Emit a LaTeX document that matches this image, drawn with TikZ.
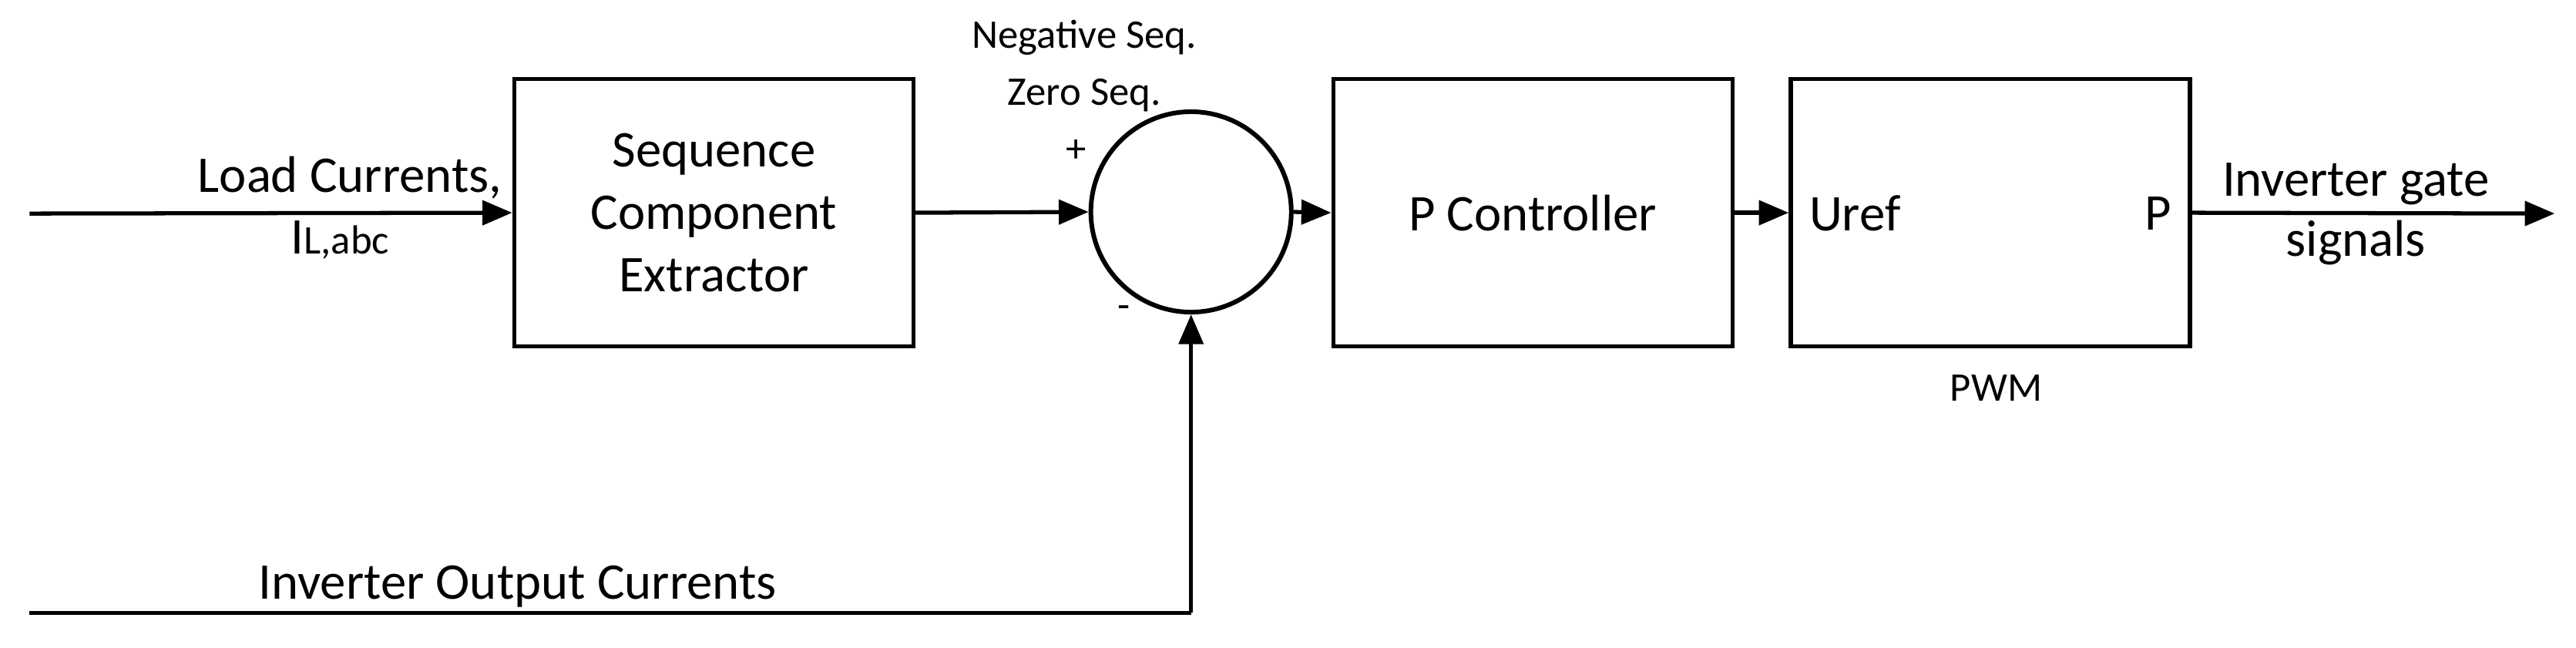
\documentclass[tikz,border=0pt]{standalone}
\usepackage{fontspec}
\setmainfont{Carlito}
\usetikzlibrary{arrows.meta}
\begin{document}
\begin{tikzpicture}[x=0.02132cm,y=-0.02132cm,
  blk/.style={draw,line width=1.5pt,minimum width=243*0.02132cm,minimum height=163*0.02132cm,inner sep=0pt,align=center,font=\fontsize{19}{23}\selectfont},
  ln/.style={line width=1.5pt},
  ar/.style={ln,-{Triangle[length=11pt,width=9pt]}},
  big/.style={font=\fontsize{19}{23}\selectfont,align=center,inner sep=0pt},
  sm/.style={font=\fontsize{15}{18}\selectfont,align=center,inner sep=0pt}]
\useasboundingbox (0,0) rectangle (1568,394);
\coordinate (in) at (18,130);
\coordinate (fb) at (18,373);
\coordinate (corner) at (725,373);
\coordinate (out) at (1555,130);
\node[blk] (sce) at (434.5,129.5) {Sequence\\Component\\Extractor};
\node[draw,circle,line width=1.7pt,minimum size=122*0.02132cm,inner sep=0pt] (sum) at (725,129) {};
\node[blk] (pc) at (933,129.5) {P Controller};
\node[blk] (pwm) at (1211.5,129.5) {};
\node[big,anchor=west] (uref) at (1101,130) {Uref};
\node[big,anchor=east] (p) at (1322,130) {P};
\node[sm] (pwmlbl) at (1215,236) {PWM};
\draw[ar] (in) -- (sce.west);
\draw[ar] (sce.east) -- (sum.west);
\draw[ar] (sum.east) -- (pc.west);
\draw[ar] (pc.east) -- (pwm.west);
\draw[ar] (pwm.east) -- (out);
\draw[ln] (fb) -- (corner);
\draw[ar] (corner) -- (sum.south);
\node[big] (lc) at (213,108) {Load Currents,};
\node[big] (il) at (207,146) {I{\fontsize{15}{18}\selectfont L,abc}};
\node[sm] (neg) at (660,23) {Negative Seq.};
\node[sm] (zero) at (660,58) {Zero Seq.};
\node[sm] (plus) at (655,92) {+};
\node[sm] (minus) at (684,190) {-};
\node[big] (ig) at (1434,112) {Inverter gate};
\node[big] (sig) at (1434,148) {signals};
\node[big] (ioc) at (315,357) {Inverter Output Currents};
\end{tikzpicture}
\end{document}
